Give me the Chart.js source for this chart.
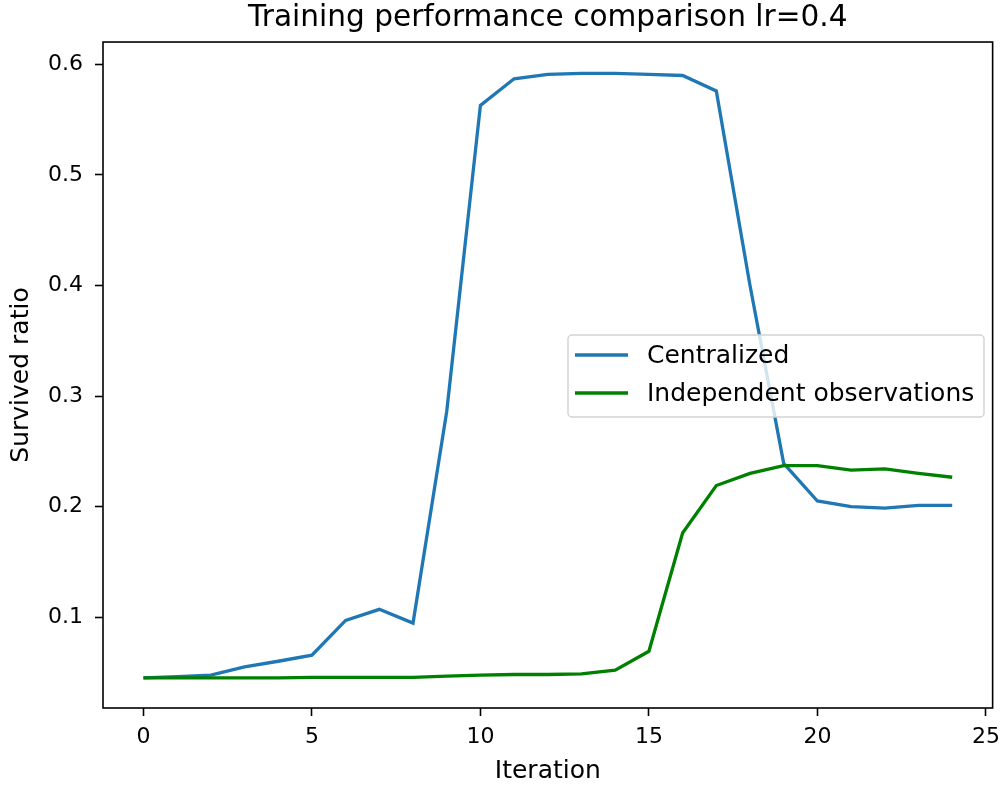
<!DOCTYPE html>
<html>
<head>
<meta charset="utf-8">
<script src="https://cdn.jsdelivr.net/npm/chart.js@4"></script>
<style>
  html, body { margin: 0; padding: 0; background: #fff; }
  canvas { display: block; }
</style>
</head>
<body>
<canvas id="chart" width="1008" height="785"></canvas>
<script>
const iterations = [0, 1, 2, 3, 4, 5, 6, 7, 8, 9, 10, 11, 12, 13, 14, 15, 16, 17, 18, 19, 20, 21, 22, 23, 24];
const centralized = [0.045, 0.046, 0.0475, 0.055, 0.060, 0.0655, 0.097, 0.107, 0.0945, 0.286, 0.563, 0.587, 0.591, 0.592, 0.592, 0.591, 0.590, 0.576, 0.400, 0.239, 0.205, 0.200, 0.1985, 0.201, 0.201];
const independent = [0.045, 0.045, 0.045, 0.045, 0.045, 0.0455, 0.0455, 0.0455, 0.0455, 0.0465, 0.0475, 0.048, 0.048, 0.0485, 0.052, 0.069, 0.176, 0.219, 0.230, 0.237, 0.237, 0.233, 0.234, 0.230, 0.2265];
const xTicks = [0, 5, 10, 15, 20, 25];
const yTicks = [0.1, 0.2, 0.3, 0.4, 0.5, 0.6];
const seriesNames = ['Centralized', 'Independent observations'];
const seriesColors = ['#1f77b4', '#008000'];

Chart.defaults.font.family = '"DejaVu Sans", sans-serif';
Chart.defaults.color = '#000';

const toPoints = vals => iterations.map((x, i) => ({ x, y: vals[i] }));

// frame around the plot area, like matplotlib axes spines
const framePlugin = {
  id: 'frame',
  afterDatasetsDraw(chart) {
    const { ctx, chartArea: a } = chart;
    ctx.save();
    ctx.strokeStyle = '#000';
    ctx.lineWidth = 1.6;
    ctx.strokeRect(a.left, a.top, a.right - a.left, a.bottom - a.top);
    ctx.restore();
  }
};

// legend box placed inside the plot
const legendPlugin = {
  id: 'boxLegend',
  afterDraw(chart) {
    const { ctx } = chart;
    const x = 568, y = 335, w = 416, h = 82, r = 4;
    ctx.save();
    ctx.beginPath();
    ctx.roundRect(x, y, w, h, r);
    ctx.fillStyle = 'rgba(255,255,255,0.8)';
    ctx.fill();
    ctx.strokeStyle = '#d4d4d4';
    ctx.lineWidth = 1.5;
    ctx.stroke();
    ctx.font = '25px "DejaVu Sans", sans-serif';
    ctx.textBaseline = 'middle';
    seriesNames.forEach((name, i) => {
      const ly = 355 + i * 38;
      ctx.strokeStyle = seriesColors[i];
      ctx.lineWidth = 3.3;
      ctx.beginPath();
      ctx.moveTo(575, ly);
      ctx.lineTo(628, ly);
      ctx.stroke();
      ctx.fillStyle = '#000';
      ctx.fillText(name, 647, ly + 1);
    });
    ctx.restore();
  }
};

new Chart(document.getElementById('chart'), {
  type: 'line',
  data: {
    datasets: [
      { label: seriesNames[0], data: toPoints(centralized), borderColor: seriesColors[0], borderWidth: 3.3, pointRadius: 0, tension: 0, order: 1 },
      { label: seriesNames[1], data: toPoints(independent), borderColor: seriesColors[1], borderWidth: 3.3, pointRadius: 0, tension: 0, order: 0 }
    ]
  },
  options: {
    responsive: false,
    animation: false,
    devicePixelRatio: 1,
    layout: { padding: { left: 0, right: 11, top: 0, bottom: 0 } },
    plugins: {
      legend: { display: false },
      tooltip: { enabled: false },
      title: {
        display: true,
        fullSize: false,
        text: 'Training performance comparison lr=0.4',
        font: { size: 29.6, weight: 'normal', lineHeight: 1.2 },
        color: '#000',
        padding: { top: 1, bottom: 5.5 }
      }
    },
    scales: {
      x: {
        type: 'linear',
        min: -1.2,
        max: 25.2,
        afterBuildTicks: s => { s.ticks = xTicks.map(v => ({ value: v })); },
        afterFit: s => { s.height = 77; },
        grid: { drawOnChartArea: false, drawTicks: true, tickLength: 8, tickColor: '#000', tickWidth: 1.6 },
        border: { display: false },
        ticks: { font: { size: 22 }, padding: 8, maxRotation: 0, color: '#000' },
        title: { display: true, text: 'Iteration', font: { size: 25, lineHeight: 1 }, padding: { top: 0, bottom: 1 }, color: '#000' }
      },
      y: {
        type: 'linear',
        min: 0.0177,
        max: 0.6203,
        afterBuildTicks: s => { s.ticks = yTicks.map(v => ({ value: v })); },
        afterFit: s => { s.width = 103; },
        grid: { drawOnChartArea: false, drawTicks: true, tickLength: 8, tickColor: '#000', tickWidth: 1.6 },
        border: { display: false },
        ticks: { font: { size: 22 }, padding: 12, color: '#000', callback: v => v.toFixed(1) },
        title: { display: true, text: 'Survived ratio', font: { size: 25, lineHeight: 1 }, padding: { top: 9, bottom: 0 }, color: '#000' }
      }
    }
  },
  plugins: [framePlugin, legendPlugin]
});
</script>
</body>
</html>
